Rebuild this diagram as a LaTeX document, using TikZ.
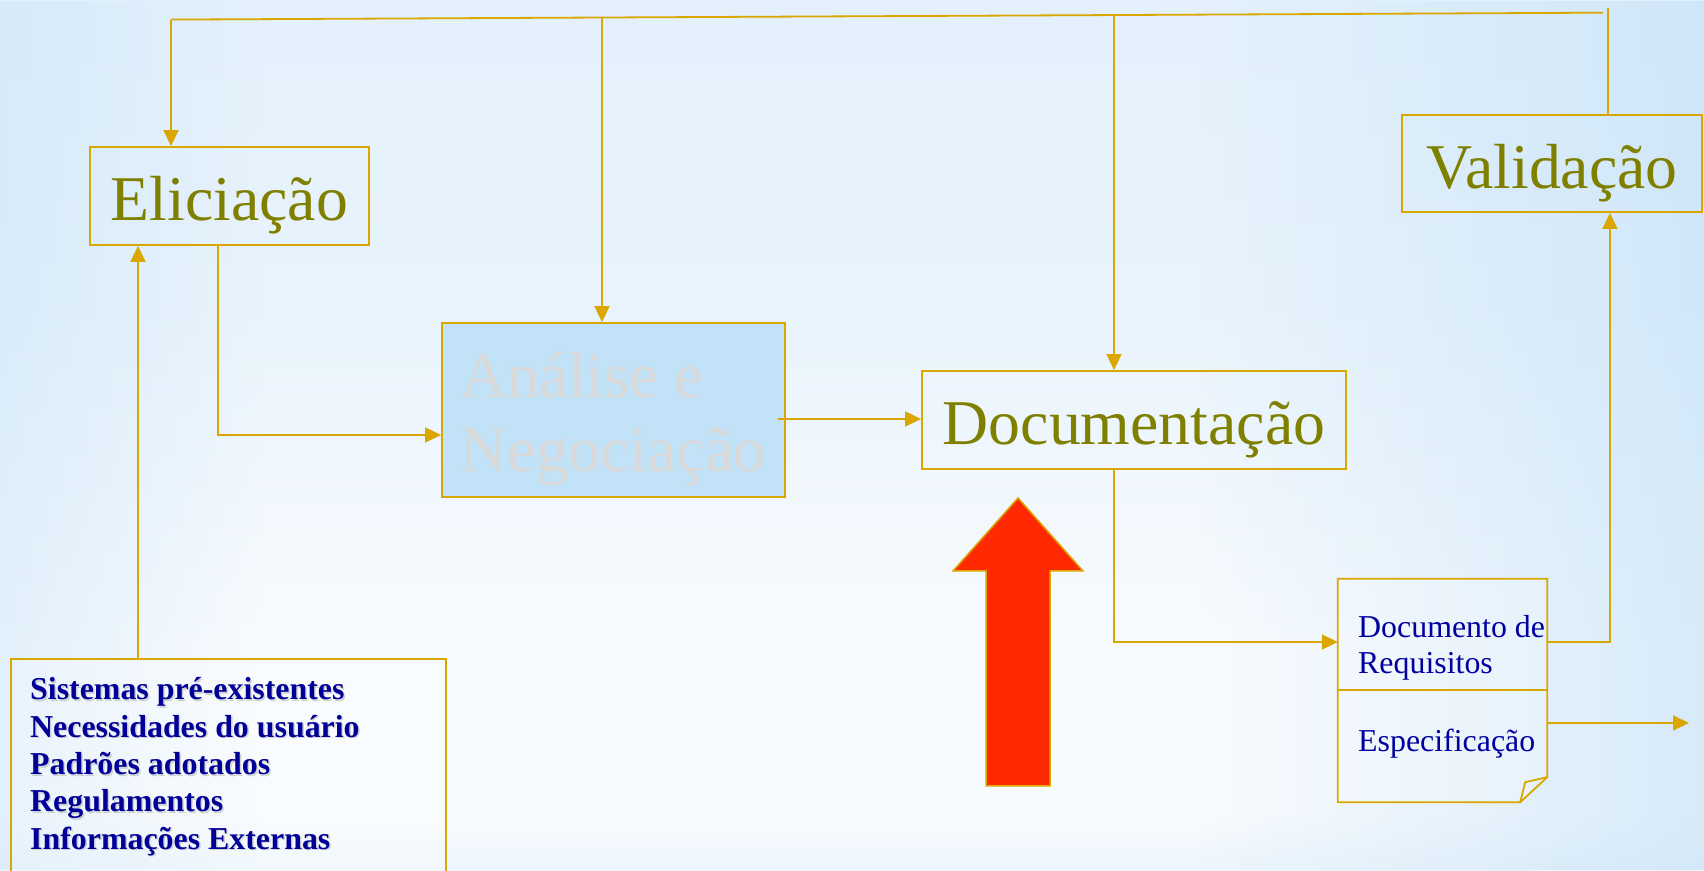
\documentclass[tikz,border=0pt]{standalone}
\usepackage{fontspec}
\setmainfont{Liberation Serif}
\usetikzlibrary{arrows.meta,fadings}
\definecolor{gold}{HTML}{D9A700}
\definecolor{stagetext}{HTML}{808000}
\definecolor{analfill}{HTML}{C2E2F8}
\definecolor{analtext}{HTML}{D9D9D9}
\definecolor{navytext}{HTML}{000099}
\definecolor{doctext}{HTML}{0000A0}
\definecolor{redarrow}{HTML}{FF2A00}
\definecolor{bgtop}{HTML}{DDEEFB}
\definecolor{bgtopb}{HTML}{E8F3FC}
\definecolor{bgwhite}{HTML}{F8FBFE}
\definecolor{bgbot}{HTML}{D3E8F8}
\definecolor{bgblue}{HTML}{C2E0F7}
\pgfdeclareverticalshading{bgshade}{100bp}{color(0bp)=(bgbot); color(18bp)=(bgbot); color(28bp)=(bgwhite); color(38bp)=(bgwhite); color(58bp)=(bgtopb); color(100bp)=(bgtop)}
\begin{document}
\begin{tikzpicture}[x=1bp,y=1bp,
  conn/.style={draw=gold, line width=1.8bp},
  arr/.style={conn, -{Triangle[length=16bp,width=15bp]}},
  boxline/.style={draw=gold, line width=1.8bp, inner sep=0pt},
  stage/.style={boxline, font=\fontsize{64}{75}\selectfont, text=stagetext, text height=58bp, text depth=8bp},
  inputtext/.style={font=\fontsize{32}{37.5}\selectfont\bfseries, align=left, inner sep=0pt, anchor=north west},
  doctextstyle/.style={font=\fontsize{32}{36}\selectfont, text=doctext, align=left, inner sep=0pt}
]
\useasboundingbox (0,0) rectangle (1704,870);
\clip (0,0) rectangle (1704,870);
\shade[shading=bgshade] (0,0) rectangle (1704,870);
\fill[bgblue, opacity=0.6, path fading=west] (1204,0) rectangle (1704,870);
\fill[bgblue, opacity=0.4, path fading=east] (0,0) rectangle (260,870);

% stage boxes
\node[stage, minimum width=279bp, minimum height=98bp] (elic) at (229.5,674) {Eliciação};
\node[stage, minimum width=300bp, minimum height=97bp] (valid) at (1552,706.5) {Validação};
\node[boxline, fill=analfill, minimum width=343bp, minimum height=174bp] (anal) at (613.5,460) {};
\node[font=\fontsize{65}{75}\selectfont, text=analtext, align=left, inner sep=0pt, yshift=-9bp] (analtxt) at (anal.center) {Análise e\\Negociação};
\node[stage, minimum width=424bp, minimum height=98bp] (docum) at (1134,450) {Documentação};

% input box
\node[boxline, fill=white, fill opacity=0.25, minimum width=435bp, minimum height=221bp] (input) at (228.5,100.5) {};
\node[inputtext, text=black!30, opacity=0.55] (inshadow) at (31.5,191) {Sistemas pré-existentes\\Necessidades do usuário\\Padrões adotados\\Regulamentos\\Informações Externas};
\node[inputtext, text=navytext] (intext) at (30,192.5) {Sistemas pré-existentes\\Necessidades do usuário\\Padrões adotados\\Regulamentos\\Informações Externas};

% requirements document
\node[minimum width=209bp, minimum height=223bp, inner sep=0pt] (docreq) at (1442.5,179.5) {};
\draw[conn, fill=white, fill opacity=0.2, line join=miter]
  (docreq.north west) -- (docreq.north east) -- ([yshift=25bp]docreq.south east)
  -- ([xshift=-27bp]docreq.south east) -- (docreq.south west) -- cycle;
\draw[conn, line join=miter] ([xshift=-27bp]docreq.south east) -- ([xshift=-22bp,yshift=20bp]docreq.south east) -- ([yshift=25bp]docreq.south east);
\draw[conn] ([yshift=0.5bp]docreq.west) -- ([yshift=0.5bp]docreq.east);
\node[doctextstyle, anchor=north west] (reqtxt) at (1358,254.5) {Documento de\\Requisitos};
\node[doctextstyle, anchor=base west] (spectxt) at (1358,118) {Especificação};

% red arrow
\fill[redarrow, draw=gold, line width=1.5bp, line join=miter]
  (1018,372) -- (1083,299) -- (1050,299) -- (1050,84) -- (986,84) -- (986,299) -- (953,299) -- cycle;

% coordinates for connector routes
\coordinate (tl) at (171,850.4);
\coordinate (tr) at (1603,857.3);
\coordinate (ta) at (602,852.5);
\coordinate (td) at (1114,854.9);
\coordinate (tv) at (1608,862.4);
\coordinate (xin) at (138,0);
\coordinate (ea) at (218,435);
\coordinate (ad) at (778,451);
\coordinate (dr) at (0,228);
\coordinate (xv) at (1610,0);
\coordinate (out) at (1689,147);

% connectors
\draw[conn] (tl) -- (tr);
\draw[arr] (tl) -- (tl |- elic.north);
\draw[arr] (ta) -- (ta |- anal.north);
\draw[arr] (td) -- (td |- docum.north);
\draw[conn] (valid.north -| tv) -- (tv);
\draw[arr] (input.north -| xin) -- (elic.south -| xin);
\draw[arr] (elic.south -| ea) |- (anal.west |- ea);
\draw[arr] (ad) -- (docum.west |- ad);
\draw[arr] (docum.south -| td) |- (docreq.west |- dr);
\draw[arr] (docreq.east |- dr) -| (valid.south -| xv);
\draw[arr] (docreq.east |- out) -- (out);
\end{tikzpicture}
\end{document}
